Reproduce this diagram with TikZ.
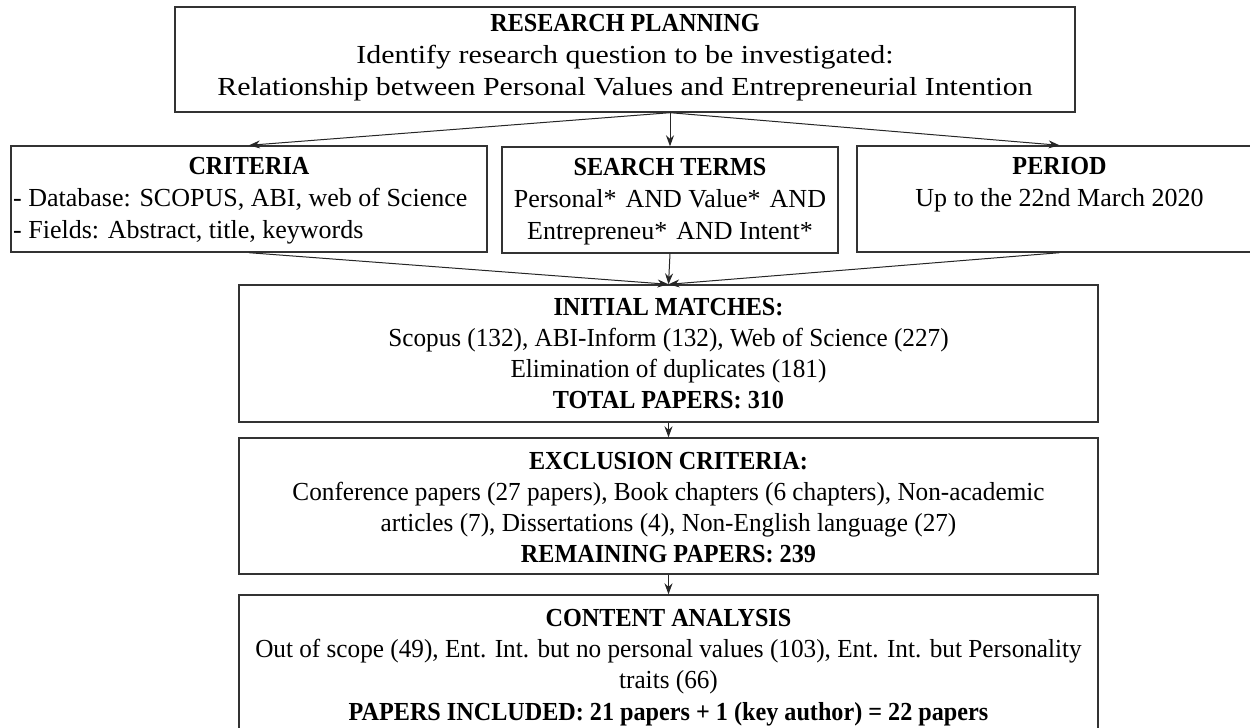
\documentclass[tikz,border=0pt]{standalone}
\usepackage{fontspec}
\setmainfont{Liberation Serif}
\newfontfamily\widefont[FakeStretch=1.15]{Liberation Serif}
\newfontfamily\headfont[WordSpace=0.5,FakeStretch=0.93]{Liberation Serif Bold}
\newfontfamily\boldfont[FakeStretch=0.93]{Liberation Serif Bold}
\newfontfamily\lowfont[FakeStretch=0.97]{Liberation Serif}
\usetikzlibrary{arrows.meta}
\begin{document}
\begin{tikzpicture}[x=1pt,y=-1pt,
  box/.style={draw=black!80, line width=1.4pt, inner sep=0pt},
  hd/.style={anchor=base, inner sep=0pt, font=\fontsize{26}{31}\headfont},
  tw/.style={anchor=base, inner sep=0pt, font=\fontsize{26}{31}\widefont},
  tn/.style={anchor=base, inner sep=0pt, font=\fontsize{26}{31}\selectfont},
  tl/.style={anchor=base west, inner sep=0pt, font=\fontsize{26}{31}\selectfont},
  tlow/.style={anchor=base, inner sep=0pt, font=\fontsize{26}{31}\lowfont},
  arr/.style={-{Stealth[length=11pt,width=8pt]}, line width=1pt, draw=black!85}]
\useasboundingbox (0,0) rectangle (1250,728);

% boxes
\node[box, minimum width=900pt, minimum height=105pt] (plan) at (625,59.5) {};
\node[box, minimum width=476pt, minimum height=106pt] (crit) at (249,199) {};
\node[box, minimum width=336pt, minimum height=106pt] (search) at (670,200) {};
\node[box, minimum width=405pt, minimum height=106pt] (period) at (1059.5,199) {};
\node[box, minimum width=859pt, minimum height=137pt] (init) at (668.5,353.5) {};
\node[box, minimum width=859pt, minimum height=136pt] (excl) at (668.5,506) {};
\node[box, minimum width=859pt, minimum height=136pt] (cont) at (668.5,663) {};

% texts
\node[hd] (planh) at (625,31) {RESEARCH PLANNING};
\node[tw] (plan1) at (625,63) {Identify research question to be investigated:};
\node[tw] (plan2) at (625,95) {Relationship between Personal Values and Entrepreneurial Intention};

\node[hd] (crith) at (249,174) {CRITERIA};
\node[tl] (crit1) at (13,206) {- Database: SCOPUS, ABI, web of Science};
\node[tl] (crit2) at (13,238) {- Fields: Abstract, title, keywords};

\node[hd] (searchh) at (670,175) {SEARCH TERMS};
\node[tn] (search1) at (670,207) {Personal*\hspace{0.1em} AND Value*\hspace{0.1em} AND};
\node[tn] (search2) at (670,239) {Entrepreneu*\hspace{0.1em} AND Intent*};

\node[hd] (periodh) at (1059.5,174) {PERIOD};
\node[tn] (period1) at (1059.5,206) {Up to the 22nd March 2020};

\node[hd] (inith) at (668.5,315) {INITIAL MATCHES:};
\node[tlow] (init1) at (668.5,346) {Scopus (132), ABI-Inform (132), Web of Science (227)};
\node[tlow] (init2) at (668.5,377) {Elimination of duplicates (181)};
\node[hd] (init3) at (668.5,408) {TOTAL PAPERS: 310};

\node[hd] (exclh) at (668.5,469) {EXCLUSION CRITERIA:};
\node[tlow] (excl1) at (668.5,500) {Conference papers (27 papers), Book chapters (6 chapters), Non-academic};
\node[tlow] (excl2) at (668.5,531) {articles (7), Dissertations (4), Non-English language (27)};
\node[hd] (excl3) at (668.5,562) {REMAINING PAPERS: 239};

\node[hd] (conth) at (668.5,626) {CONTENT ANALYSIS};
\node[tlow] (cont1) at (668.5,657) {Out of scope (49), Ent. Int. but no personal values (103), Ent. Int. but Personality};
\node[tlow] (cont2) at (668.5,688) {traits (66)};
\node[hd] (cont3) at (668.5,720) {PAPERS INCLUDED: {\boldfont 21 papers + 1 (key author) = 22 papers}};

% connectors
\coordinate (split) at (search.north |- plan.south);
\draw[arr] (split) -- (crit.north);
\draw[arr] (split) -- (search.north);
\draw[arr] (split) -- (period.north);
\draw[arr] (crit.south) -- (init.north);
\draw[arr] (search.south) -- (init.north);
\draw[arr] (period.south) -- (init.north);
\draw[arr] (init.south) -- (excl.north);
\draw[arr] (excl.south) -- (cont.north);
\end{tikzpicture}
\end{document}
